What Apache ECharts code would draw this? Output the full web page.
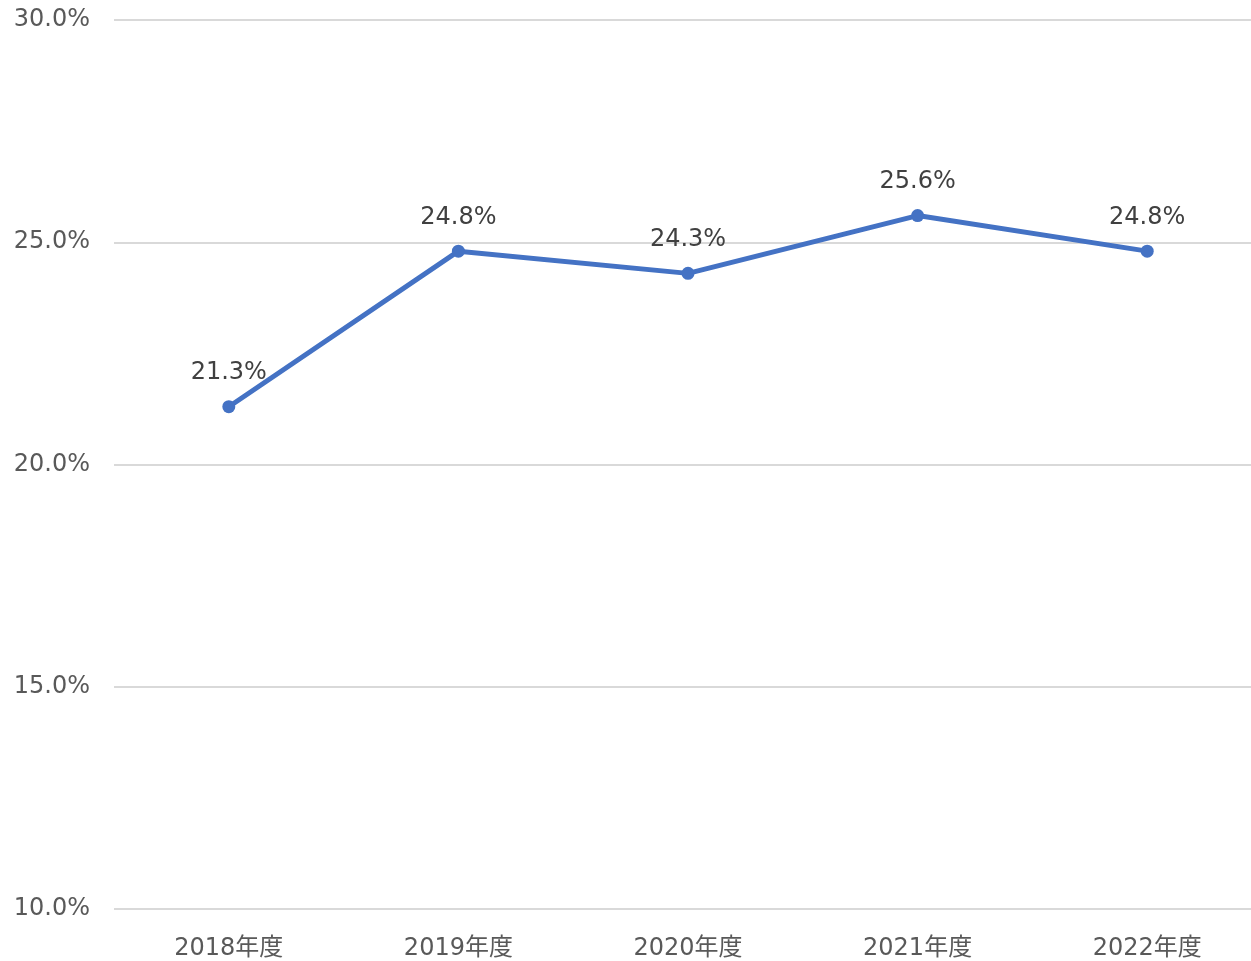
<!DOCTYPE html>
<html>
<head>
<meta charset="utf-8">
<script src="https://cdn.jsdelivr.net/npm/echarts@6/dist/echarts.min.js"></script>
<style>
  html, body { margin: 0; padding: 0; background: #fff; }
  #frame { position: relative; width: 1251px; height: 961px; overflow: hidden; }
  /* plot area runs slightly past the right edge of the frame */
  #chart { position: absolute; left: 0; top: 0; width: 1262px; height: 961px; }
</style>
</head>
<body>
<div id="frame"><div id="chart"></div></div>
<script>
// Fiscal years and ratio values (%)
const categories = ['2018年度', '2019年度', '2020年度', '2021年度', '2022年度'];
const ratioValues = [21.3, 24.8, 24.3, 25.6, 24.8];
const yMin = 10;
const yMax = 30;
const yStep = 5;

const font = '"DejaVu Sans", "Noto Sans CJK JP", sans-serif';

const chart = echarts.init(document.getElementById('chart'), null, { renderer: 'canvas' });
chart.setOption({
  animation: false,
  backgroundColor: '#ffffff',
  grid: { left: 114, top: 20, right: 0, bottom: 50, containLabel: false },
  xAxis: {
    type: 'category',
    data: categories,
    boundaryGap: true,
    axisLine: { show: false },
    axisTick: { show: false },
    axisLabel: { color: '#595959', fontSize: 24, fontFamily: font, margin: 28 }
  },
  yAxis: {
    type: 'value',
    min: yMin,
    max: yMax,
    interval: yStep,
    axisLine: { show: false },
    axisTick: { show: false },
    splitLine: { lineStyle: { color: '#d9d9d9', width: 2 } },
    axisLabel: {
      color: '#595959', fontSize: 24, fontFamily: font, margin: 24,
      formatter: v => v.toFixed(1) + '%'
    }
  },
  series: [{
    type: 'line',
    data: ratioValues,
    symbol: 'circle',
    symbolSize: 13,
    itemStyle: { color: '#4472C4' },
    lineStyle: { color: '#4472C4', width: 5 },
    label: {
      show: true,
      position: 'top',
      distance: 15,
      color: '#404040',
      fontSize: 24,
      fontFamily: font,
      formatter: p => p.value.toFixed(1) + '%'
    }
  }]
});
</script>
</body>
</html>
